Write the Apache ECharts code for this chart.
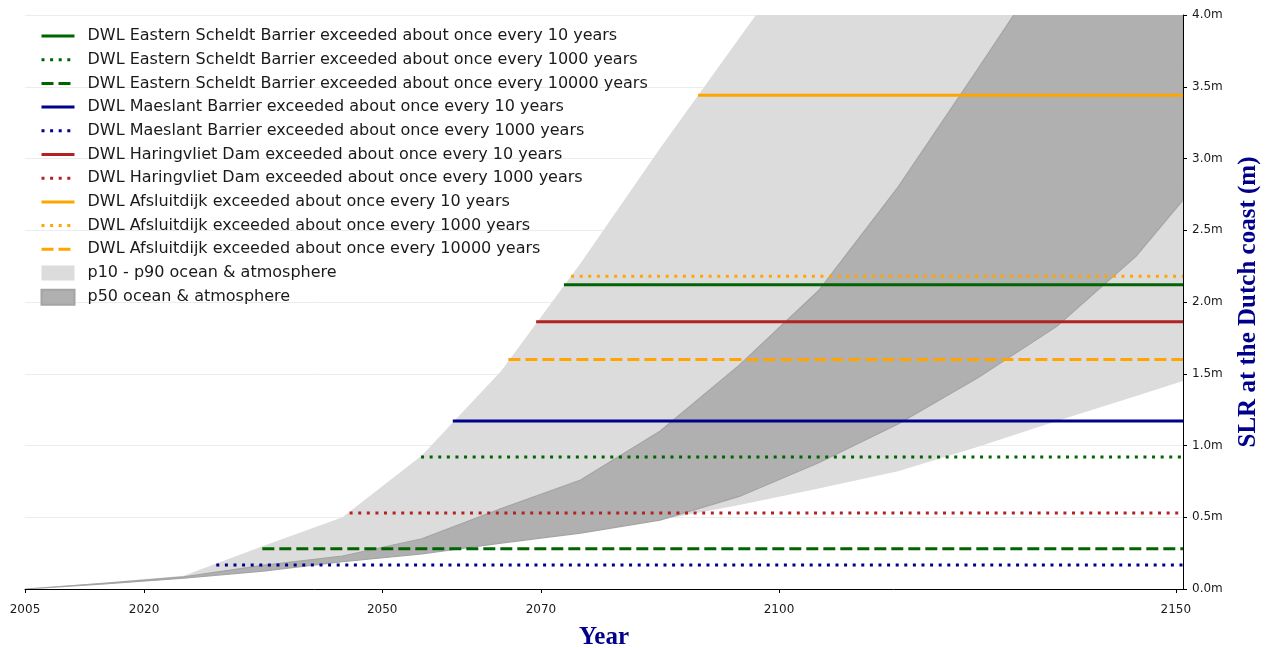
<!DOCTYPE html>
<html>
<head>
<meta charset="utf-8">
<script src="https://cdn.jsdelivr.net/npm/echarts@6/dist/echarts.min.js"></script>
<style>
  html, body { margin: 0; padding: 0; background: #fff; }
  #chart { width: 1267px; height: 648px; }
</style>
</head>
<body>
<div id="chart"></div>
<script>
// --- data ---
var years = [2005, 2015, 2025, 2035, 2045, 2055, 2065, 2075, 2085, 2095, 2105, 2115, 2125, 2135, 2145, 2150.9];
var p90 = [0, 0.045, 0.093, 0.30, 0.50, 0.93, 1.52, 2.27, 3.07, 3.84, 4.6, 5.4, 6.2, 7.0, 7.8, 8.3];
var p10 = [0, 0.035, 0.075, 0.125, 0.19, 0.245, 0.32, 0.39, 0.48, 0.586, 0.70, 0.82, 0.99, 1.17, 1.345, 1.45];
var p50High = [0, 0.04, 0.085, 0.165, 0.23, 0.35, 0.56, 0.76, 1.10, 1.56, 2.08, 2.80, 3.62, 4.45, 5.3, 5.8];
var p50Low = [0, 0.035, 0.075, 0.125, 0.19, 0.245, 0.32, 0.39, 0.48, 0.645, 0.88, 1.15, 1.47, 1.83, 2.32, 2.71];

var dwlNames = [
  'DWL Eastern Scheldt Barrier exceeded about once every 10 years',
  'DWL Eastern Scheldt Barrier exceeded about once every 1000 years',
  'DWL Eastern Scheldt Barrier exceeded about once every 10000 years',
  'DWL Maeslant Barrier exceeded about once every 10 years',
  'DWL Maeslant Barrier exceeded about once every 1000 years',
  'DWL Haringvliet Dam exceeded about once every 10 years',
  'DWL Haringvliet Dam exceeded about once every 1000 years',
  'DWL Afsluitdijk exceeded about once every 10 years',
  'DWL Afsluitdijk exceeded about once every 1000 years',
  'DWL Afsluitdijk exceeded about once every 10000 years'
];
var dwlLevels = [2.12, 0.92, 0.28, 1.17, 0.167, 1.862, 0.53, 3.44, 2.18, 1.60];
var dwlStart = [2072.9, 2054.9, 2034.9, 2058.9, 2029.1, 2069.4, 2045.9, 2089.8, 2073.8, 2065.9];

var xTicks = [2005, 2020, 2050, 2070, 2100, 2150];
var bandNames = ['p10 - p90 ocean & atmosphere', 'p50 ocean & atmosphere'];

// --- styles ---
var green = '#006400', navy = '#00008B', red = '#B22222', orange = '#FFA500';
var dwlColors = [green, green, green, navy, navy, red, red, orange, orange, orange];
var dotted = [3, 5.6], dashed = [12, 5];
var dwlTypes = ['solid', dotted, dashed, 'solid', dotted, 'solid', dotted, 'solid', dotted, dashed];
var lightFill = '#dcdcdc', darkFill = '#b0b0b0', darkEdge = '#a4a4a4';
var xMax = 2150.9;

// band polygon: upper edge left->right, lower edge right->left, clipped to the grid
function bandSeries(name, lower, upper, fill, stroke) {
  return {
    name: name,
    type: 'custom',
    silent: true,
    encode: { x: 0, y: [1, 2] },
    data: years.map(function(y, i) { return [y, lower[i], upper[i]]; }),
    renderItem: function(params, api) {
      if (params.dataIndex !== 0) return null;
      var pts = [];
      for (var i = 0; i < years.length; i++) pts.push(api.coord([years[i], upper[i]]));
      for (var j = years.length - 1; j >= 0; j--) pts.push(api.coord([years[j], lower[j]]));
      var cs = params.coordSys;
      return {
        type: 'polygon',
        shape: { points: pts },
        style: { fill: fill, stroke: stroke || null, lineWidth: stroke ? 1.2 : 0 },
        clipPath: { type: 'rect', shape: { x: cs.x, y: cs.y, width: cs.width, height: cs.height } }
      };
    }
  };
}

var series = [
  bandSeries(bandNames[0], p10, p90, lightFill),
  bandSeries(bandNames[1], p50Low, p50High, darkFill, darkEdge)
];

dwlNames.forEach(function(name, i) {
  series.push({
    name: name,
    type: 'line',
    data: [[dwlStart[i], dwlLevels[i]], [xMax, dwlLevels[i]]],
    symbol: 'none',
    color: dwlColors[i],
    lineStyle: { color: dwlColors[i], width: 3, type: dwlTypes[i], cap: 'butt' },
    silent: true
  });
});

var legendData = dwlNames.slice();
legendData.push({ name: bandNames[0], icon: 'rect', itemStyle: { color: lightFill, borderWidth: 0, opacity: 1 } });
legendData.push({ name: bandNames[1], icon: 'rect', itemStyle: { color: darkFill, borderColor: darkEdge, borderWidth: 2, opacity: 1 } });

var chart = echarts.init(document.getElementById('chart'), null, { renderer: 'canvas' });
chart.setOption({
  animation: false,
  backgroundColor: '#fff',
  grid: { left: 25, right: 84, top: 15, bottom: 59, outerBoundsMode: 'none', containLabel: false },
  legend: {
    orient: 'vertical',
    left: 40,
    top: 28,
    padding: 0,
    itemWidth: 33,
    itemHeight: 15,
    itemGap: 7.7,
    selectedMode: false,
    itemStyle: { opacity: 0 },
    lineStyle: { width: 3 },
    textStyle: { fontFamily: 'DejaVu Sans', fontSize: 16, lineHeight: 14, color: '#1a1a1a', padding: [0, 0, 0, 8] },
    data: legendData
  },
  xAxis: {
    type: 'value',
    min: 2005,
    max: xMax,
    name: 'Year',
    nameLocation: 'middle',
    nameGap: 36,
    nameTextStyle: { fontFamily: 'Liberation Serif', fontWeight: 'bold', fontSize: 25, color: navy },
    axisLine: { lineStyle: { color: '#000', width: 1 } },
    axisTick: { customValues: xTicks, length: 4, lineStyle: { color: '#000' } },
    axisLabel: {
      customValues: xTicks, margin: 15, fontFamily: 'DejaVu Sans', fontSize: 12, color: '#1a1a1a',
      formatter: function(v) { return String(v); }
    },
    splitLine: { show: false }
  },
  yAxis: {
    type: 'value',
    position: 'right',
    min: 0,
    max: 4,
    interval: 0.5,
    name: 'SLR at the Dutch coast (m)',
    nameLocation: 'middle',
    nameRotate: 90,
    nameGap: 53,
    nameTextStyle: { fontFamily: 'Liberation Serif', fontWeight: 'bold', fontSize: 25, color: navy },
    axisLine: { show: true, lineStyle: { color: '#000', width: 1 } },
    axisTick: { show: true, length: 4, lineStyle: { color: '#000' } },
    axisLabel: {
      margin: 9, fontFamily: 'DejaVu Sans', fontSize: 12, color: '#1a1a1a',
      formatter: function(v) { return v.toFixed(1) + 'm'; }
    },
    splitLine: { lineStyle: { color: '#ececec', width: 1 } }
  },
  series: series
});
</script>
</body>
</html>
